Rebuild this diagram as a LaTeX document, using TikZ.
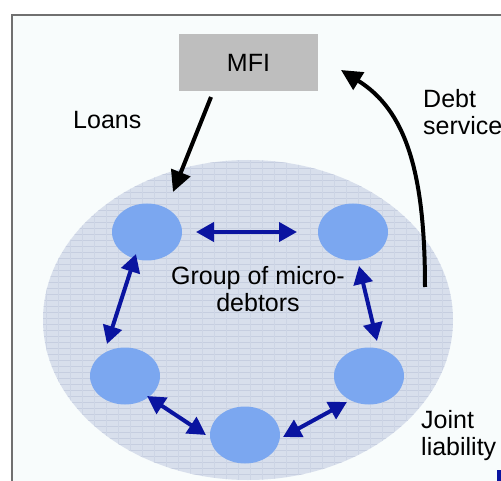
\documentclass[tikz,border=0pt]{standalone}
\usepackage{fontspec}
\setmainfont{Liberation Sans}
\usetikzlibrary{arrows.meta,shapes.geometric}
\definecolor{pagebg}{RGB}{248,252,252}
\definecolor{framegray}{RGB}{112,112,112}
\definecolor{groupfill}{RGB}{216,223,236}
\definecolor{groupline}{RGB}{198,206,224}
\definecolor{debtor}{RGB}{123,167,240}
\definecolor{linkblue}{RGB}{10,20,160}
\definecolor{mfigray}{RGB}{190,190,190}
\tikzset{
  lbl/.style={font=\fontsize{25}{28}\selectfont, inner sep=0pt, align=left},
  member/.style={ellipse, fill=debtor, minimum width=70pt, minimum height=57pt, inner sep=0pt},
  tie/.style={linkblue, line width=4pt, {Triangle[length=18pt,width=19pt]}-{Triangle[length=18pt,width=19pt]}},
  flow/.style={black, line width=4pt, -{Triangle[length=21pt,width=20pt]}},
}
\begin{document}
\begin{tikzpicture}[x=1pt,y=-1pt]
\useasboundingbox (0,0) rectangle (501,481);
% page frame
\fill[white] (0,0) rectangle (501,481);
\fill[pagebg] (12,15) rectangle (501,481);
\draw[framegray, line width=2pt] (12,481) -- (12,15) -- (501,15);
% the group of micro-debtors
\begin{scope}
  \clip (0,0) rectangle (501,481);
  \fill[groupfill] (248,320) ellipse [x radius=205, y radius=160];
  \clip (248,320) ellipse [x radius=205, y radius=160];
  \foreach \yy in {162,168,...,480} {
    \draw[groupline, line width=0.8pt] (40,\yy) -- (460,\yy);
  }
  \foreach \xx in {46,58,...,452} {
    \draw[groupline!60!groupfill, line width=0.5pt] (\xx,160) -- (\xx,481);
  }
\end{scope}
% MFI
\node[fill=mfigray, minimum width=139pt, minimum height=57pt, inner sep=0pt, font=\fontsize{25}{28}\selectfont] (mfi) at (248.5,62.5) {MFI};
% members
\node[member] (tl) at (147,232) {};
\node[member] (tr) at (353,232) {};
\node[member] (ml) at (125,376) {};
\node[member] (mr) at (369,376) {};
\node[member] (bm) at (245,435) {};
% joint liability links
\coordinate (a1) at (196,232); \coordinate (a2) at (297,232);
\coordinate (b1) at (136,254); \coordinate (b2) at (107,344);
\coordinate (c1) at (359,266); \coordinate (c2) at (377,341);
\coordinate (d1) at (147,396); \coordinate (d2) at (206,435);
\coordinate (e1) at (283,437); \coordinate (e2) at (347,402);
\draw[tie] (a1) -- (a2);
\draw[tie] (b1) -- (b2);
\draw[tie] (c1) -- (c2);
\draw[tie] (d1) -- (d2);
\draw[tie] (e1) -- (e2);
% loan and repayment flows
\coordinate (loanend) at (173,192);
\coordinate (loanstart) at (211,97);
\draw[flow] (loanstart) -- (loanend);
\coordinate (repstart) at (425,287);
\coordinate (repend) at (341,70);
\draw[flow] (repstart) .. controls (425,170) and (405,110) .. (repend);
% labels
\node[lbl, anchor=base west] (loans) at (73,129) {Loans};
\node[lbl, anchor=base west] (debt) at (423,108) {Debt};
\node[lbl, anchor=base west] (service) at (423,135) {service};
\node[lbl, anchor=base] (grp) at (258,284) {Group of micro-};
\node[lbl, anchor=base] (grp2) at (258,312) {debtors};
\node[lbl, anchor=base west] (joint) at (421,428) {Joint};
\node[lbl, anchor=base west] (liab) at (421,455) {liability};
% corner mark
\fill[linkblue] (497,470) rectangle (501,481);
\end{tikzpicture}
\end{document}
